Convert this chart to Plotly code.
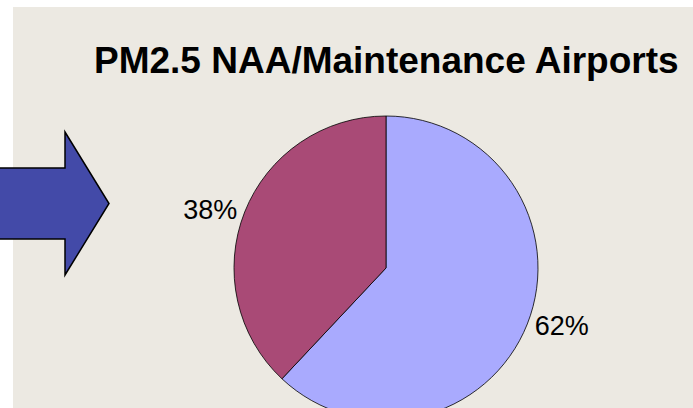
import plotly.graph_objects as go

# Data
categories = ["Maintenance", "Nonattainment"]
values = [62, 38]
colors = ["#A9AAFE", "#A94A76"]
title_text = "PM2.5 NAA/Maintenance Airports"

W, H = 693, 430  # figure taller than window; bottom of pie is cropped like reference

def px(x):
    return x / W

def py(y):
    return 1 - y / H

fig = go.Figure()
fig.add_trace(go.Pie(
    labels=categories,
    values=values,
    sort=False,
    direction="clockwise",
    rotation=0,
    marker=dict(colors=colors, line=dict(color="#000000", width=0.8)),
    textinfo="percent",
    textposition="outside",
    outsidetextfont=dict(family="Liberation Sans, Arial, sans-serif", size=27, color="#000000"),
    hoverinfo="label+percent",
    showlegend=False,
    domain=dict(x=[px(234), px(538)], y=[py(420), py(116)]),
))

shapes = [
    # beige panel
    dict(type="rect", xref="paper", yref="paper", x0=px(13), x1=px(700), y0=py(440), y1=py(7),
         fillcolor="#ECE9E2", line=dict(width=0), layer="below"),
    # block arrow
    dict(type="path", xref="paper", yref="paper",
         path=("M {:.5f},{:.5f} L {:.5f},{:.5f} L {:.5f},{:.5f} L {:.5f},{:.5f} "
               "L {:.5f},{:.5f} L {:.5f},{:.5f} L {:.5f},{:.5f} Z").format(
             px(-5), py(168), px(65), py(168), px(65), py(132), px(109), py(203.5),
             px(65), py(275), px(65), py(239), px(-5), py(239)),
         fillcolor="#434AA8", line=dict(color="#000000", width=1.5), layer="above"),
]

fig.update_layout(
    width=W, height=H,
    margin=dict(l=0, r=0, t=0, b=0),
    paper_bgcolor="#FFFFFF",
    plot_bgcolor="#FFFFFF",
    shapes=shapes,
    annotations=[dict(
        text="<b>" + title_text + "</b>", xref="paper", yref="paper",
        x=px(386), y=py(60), xanchor="center", yanchor="middle", showarrow=False,
        font=dict(family="Liberation Sans, Arial, sans-serif", size=37, color="#000000"),
    )],
)

fig.write_html(
    "out.html",
    config={"displayModeBar": False},
    post_script=("document.documentElement.style.overflow='hidden';"
                 "document.body.style.overflow='hidden';"
                 "document.body.style.margin='0';"),
)
